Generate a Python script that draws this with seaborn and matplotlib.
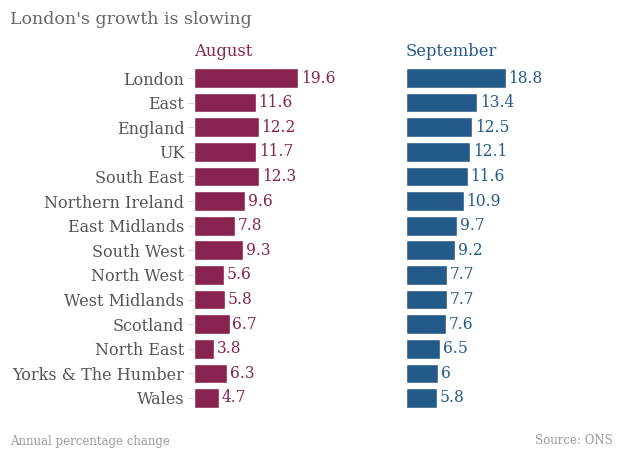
import pandas as pd
import numpy as np
import seaborn as sns
from matplotlib import pyplot as plt

regions = ['London', 'East', 'England', 'UK', 'South East', 'Northern Ireland',
           'East Midlands', 'South West', 'North West', 'West Midlands',
           'Scotland', 'North East', 'Yorks & The Humber', 'Wales']
august = [19.6, 11.6, 12.2, 11.7, 12.3, 9.6, 7.8, 9.3, 5.6, 5.8, 6.7, 3.8, 6.3, 4.7]
september = [18.8, 13.4, 12.5, 12.1, 11.6, 10.9, 9.7, 9.2, 7.7, 7.7, 7.6, 6.5, 6, 5.8]

AUG_COLOR = '#88224f'
SEP_COLOR = '#245a89'
TEXT_GREY = '#666666'

sns.set_style('white')
plt.rcParams['font.family'] = ['DejaVu Serif']

df = pd.DataFrame({'region': regions, 'August': august, 'September': september})

fig = plt.figure(figsize=(6.2, 4.5), dpi=100)
bottom = 1 - 410.3 / 450
height = 344.6 / 450
ax_aug = fig.add_axes([194 / 620, bottom, 191 / 620, height])
ax_sep = fig.add_axes([406 / 620, bottom, 191 / 620, height])

for ax, col, color in [(ax_aug, 'August', AUG_COLOR), (ax_sep, 'September', SEP_COLOR)]:
    sns.barplot(data=df, x=col, y='region', orient='h', color=color,
                edgecolor='white', linewidth=1, width=0.8, ax=ax, saturation=1)
    ax.bar_label(ax.containers[0], labels=[f'{v:g}' for v in df[col]],
                 padding=2, color=color, fontsize=11.2)
    ax.set_xlim(0, 36)
    ax.set_ylim(13.5, -0.5)
    ax.set_xlabel('')
    ax.set_ylabel('')
    ax.set_xticks([])
    sns.despine(ax=ax, left=True, bottom=True)
    ax.text(0, -0.75, col, color=color, fontsize=11.8, ha='left', va='bottom')

ax_aug.tick_params(axis='y', length=4, width=0.6, color='#cccccc', pad=3,
                   labelsize=11.5, labelcolor='#555555', left=True)
ax_sep.set_yticks([])

fig.text(10 / 620, 1 - 20 / 450, "London's growth is slowing", fontsize=12.5,
         color=TEXT_GREY, ha='left', va='center')
fig.text(10 / 620, 1 - 441 / 450, 'Annual percentage change', fontsize=8.5,
         color='#999999', ha='left', va='center')
fig.text(613 / 620, 1 - 441 / 450, 'Source: ONS', fontsize=8.5,
         color='#999999', ha='right', va='center')

fig.savefig('out.png', dpi=100)
